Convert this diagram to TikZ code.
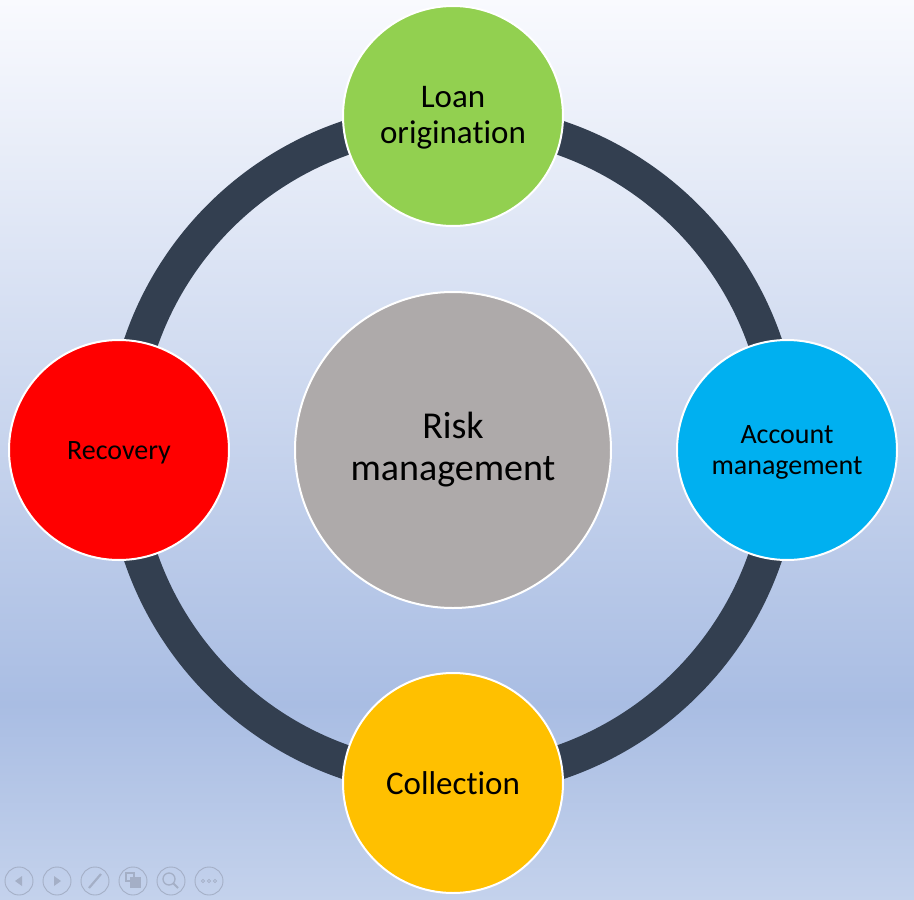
\documentclass[tikz,border=0pt]{standalone}
\usepackage{fontspec}
\setmainfont{Carlito}[Ligatures=CommonOff]
\definecolor{bgtop}{HTML}{F9FAFE}
\definecolor{bgmid}{HTML}{A9BDE3}
\definecolor{bgbot}{HTML}{C4D2EC}
\definecolor{ringc}{HTML}{333F50}
\definecolor{cgray}{HTML}{AEAAAA}
\definecolor{cgreen}{HTML}{92D050}
\definecolor{cblue}{HTML}{00B0F0}
\definecolor{cyellow}{HTML}{FFC000}
\definecolor{cred}{HTML}{FF0000}
\definecolor{btn}{HTML}{A4AFC6}
\begin{document}
\begin{tikzpicture}[x=1pt,y=-1pt,
  bub/.style={circle, draw=white, line width=2pt, inner sep=0pt, align=center, text=black},
  small/.style={bub, minimum size=220pt},
  txt/.style={align=center, text=black, inner sep=0pt},
  btnc/.style={circle, draw=btn, line width=0.9pt, minimum size=28pt, inner sep=0pt}]
\useasboundingbox (0,0) rectangle (914,900);
\shade[top color=bgtop, bottom color=bgmid] (0,0) rectangle (914,705);
\shade[top color=bgmid, bottom color=bgbot] (0,704) rectangle (914,900);
% ring
\coordinate (ctr) at (453,450);
\draw[ringc, line width=34pt] (ctr) circle[radius=330pt];
% circles
\node[bub, fill=cgray, minimum size=316pt, font=\fontsize{38}{42}\selectfont] (risk) at (ctr) {Risk\\management};
\node[small, fill=cgreen, label={[txt, yshift=-2pt, font=\fontsize{33}{36}\selectfont]center:Loan\\origination}] (loan) at (453,116) {};
\node[small, fill=cblue, label={[txt, yshift=-2pt, font=\fontsize{28}{31}\selectfont]center:Account\\management}] (acct) at (787,450) {};
\node[small, fill=cyellow, font=\fontsize{33}{38}\selectfont] (coll) at (453,783) {Collection};
\node[small, fill=cred, label={[txt, yshift=-3pt, font=\fontsize{28}{32}\selectfont]center:Recovery}] (recv) at (119,450) {};
% slideshow buttons
\foreach \i/\x in {1/19,2/57,3/95,4/133,5/171,6/209}{\node[btnc] (b\i) at (\x,881) {};}
\fill[btn] ([xshift=-4pt]b1.center) -- ([xshift=3pt,yshift=-5pt]b1.center) -- ([xshift=3pt,yshift=5pt]b1.center) -- cycle;
\fill[btn] ([xshift=4pt]b2.center) -- ([xshift=-3pt,yshift=-5pt]b2.center) -- ([xshift=-3pt,yshift=5pt]b2.center) -- cycle;
\draw[btn, line width=2.2pt] ([xshift=-6pt,yshift=-7pt]b3.center) -- ([xshift=6pt,yshift=7pt]b3.center);
\draw[btn, line width=1.2pt] ([xshift=-7pt,yshift=8pt]b4.center) rectangle ([xshift=1pt,yshift=0pt]b4.center);
\fill[btn] ([xshift=-3pt,yshift=4pt]b4.center) rectangle ([xshift=8pt,yshift=-7pt]b4.center);
\draw[btn, line width=1.3pt] ([xshift=-2pt,yshift=2pt]b5.center) circle[radius=6pt];
\draw[btn, line width=2pt] ([xshift=2.5pt,yshift=-2.5pt]b5.center) -- ([xshift=7pt,yshift=-7pt]b5.center);
\foreach \d in {-6,0,6}{\draw[btn, line width=0.8pt] ([xshift=\d pt]b6.center) circle[radius=1.6pt];}
\end{tikzpicture}
\end{document}
